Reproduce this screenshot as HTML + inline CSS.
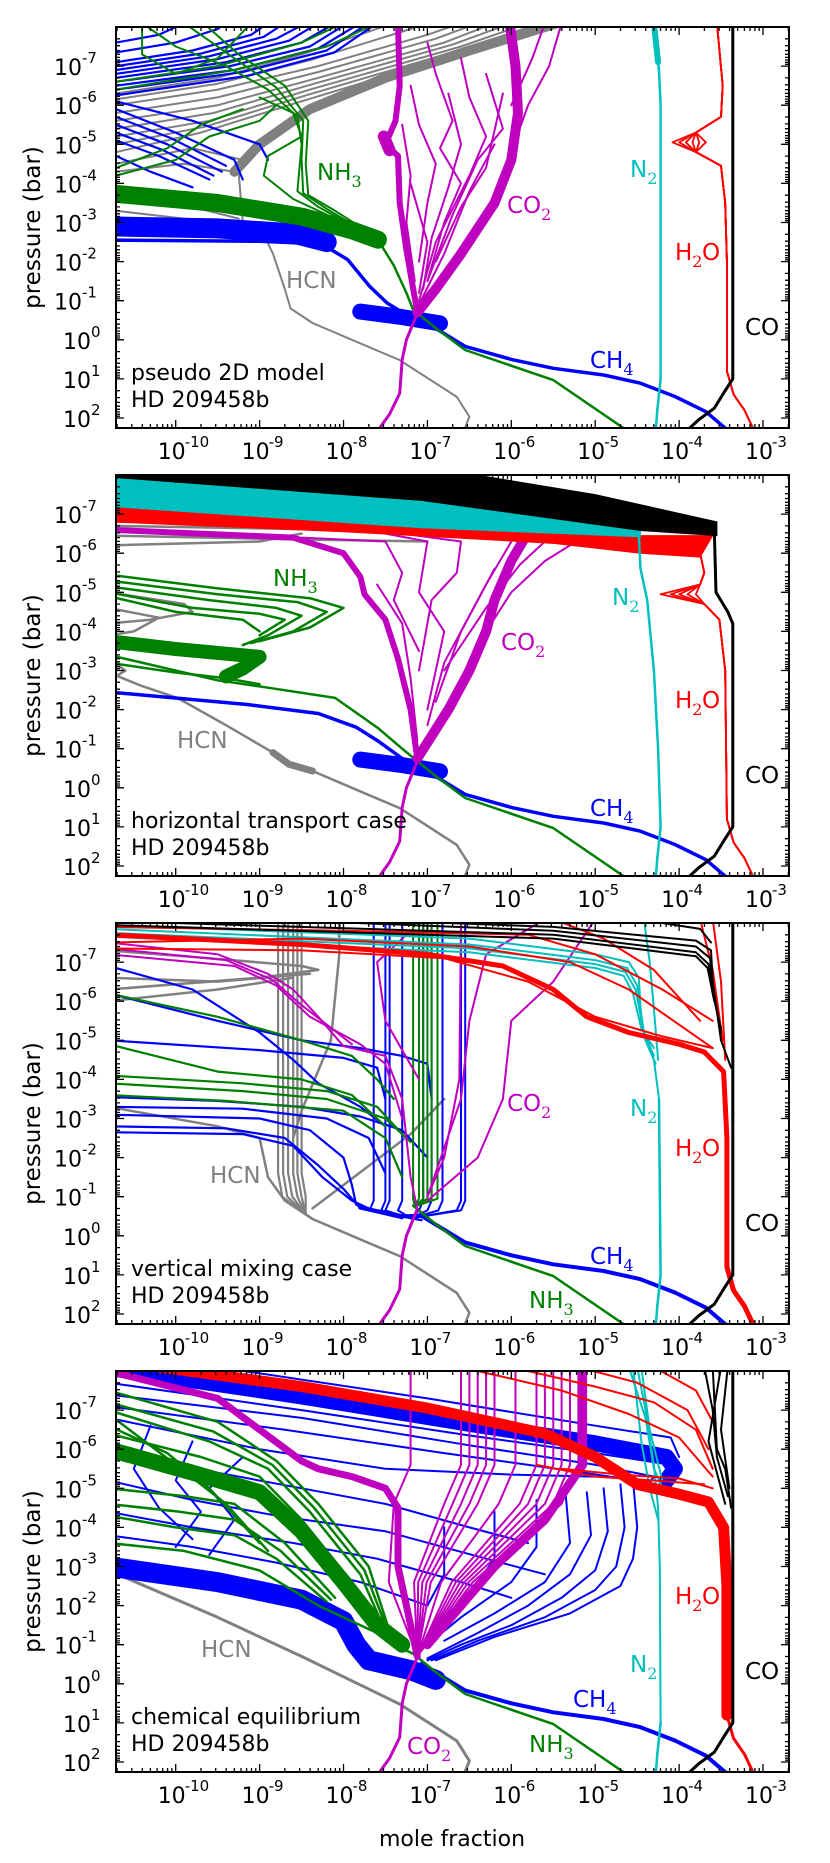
<!DOCTYPE html>
<html><head><meta charset="utf-8"><style>
html,body{margin:0;padding:0;background:#fff}
svg{display:block}
text{font-family:"DejaVu Sans","Liberation Sans",sans-serif}
</style></head><body>
<svg id="fig" xmlns="http://www.w3.org/2000/svg" width="830" height="1863" viewBox="0 0 830 1863">
<text x="452" y="1846" font-size="22" text-anchor="middle">mole fraction</text>
</svg>
<script>
// ---- shared data (log10 mole fraction, log10 pressure/bar) ----
const xTickExps = [-10,-9,-8,-7,-6,-5,-4,-3];
const yTickExps = [-7,-6,-5,-4,-3,-2,-1,0,1,2];
const panelTitles = ["pseudo 2D model","horizontal transport case","vertical mixing case","chemical equilibrium"];
const planetName = "HD 209458b";
const CO_deep = [[-3.36,1.0],[-3.45,1.3],[-3.58,1.75],[-3.77,2.05],[-3.92,2.35]];
const H2O_deep = [[-3.43,0.8],[-3.35,1.4],[-3.22,1.8],[-3.1,2.35]];
const N2_deep = [[-4.22,1.0],[-4.26,1.8],[-4.28,2.35]];
const CH4_deep = [[-7.07,-0.51],[-6.55,0.17],[-6.0,0.5],[-5.5,0.73],[-4.9,0.9],[-4.46,1.11],[-4.05,1.45],[-3.68,1.84],[-3.4,2.35]];
const NH3_deep = [[-7.17,-0.77],[-6.9,-0.3],[-6.55,0.26],[-5.5,1.03],[-4.6,2.35]];
const HCN_deep = [[-8.37,-0.43],[-7.9,0.0],[-7.33,0.52],[-6.65,1.46],[-6.5,1.97],[-6.57,2.35]];
const CO2_deep = [[-7.12,-0.68],[-7.25,0.0],[-7.3,0.5],[-7.33,1.37],[-7.45,1.9],[-7.6,2.35]];

const C = {co:"#000000",h2o:"#ff0000",n2:"#00bfbf",ch4:"#0000ff",nh3:"#008000",hcn:"#808080",co2:"#bf00bf"};

// ---- panel 1: pseudo 2D ----
const p1_hcn = [
 [[-10.71,-6.3],[-9.5,-6.7],[-8.5,-7.3],[-7.4,-8.1]],
 [[-10.71,-6.15],[-9.5,-6.55],[-8.4,-7.15],[-7.2,-7.95],[-7.0,-8.1]],
 [[-10.71,-6.0],[-9.5,-6.4],[-8.3,-7.0],[-7.0,-7.8],[-6.6,-8.1]],
 [[-10.71,-5.8],[-9.5,-6.2],[-8.3,-6.85],[-6.9,-7.7],[-6.4,-8.1]],
 [[-10.71,-5.6],[-9.5,-6.0],[-8.3,-6.7],[-6.8,-7.6],[-6.2,-8.1]],
 [[-10.71,-5.4],[-9.55,-5.8],[-8.35,-6.55],[-6.7,-7.55],[-6.0,-8.1]],
 [[-10.71,-5.2],[-9.6,-5.6],[-8.4,-6.4],[-6.6,-7.5],[-5.8,-8.1]],
 [[-10.71,-5.0],[-9.65,-5.45],[-8.45,-6.25],[-6.55,-7.45],[-5.65,-8.1]],
 [[-10.71,-4.8],[-9.7,-5.3],[-8.5,-6.1],[-6.5,-7.4],[-5.5,-8.1]],
 [[-10.71,-4.5],[-9.8,-4.9],[-9.2,-4.6]],
 [[-10.71,-4.3],[-9.9,-4.5],[-9.3,-4.3]],
 [[-10.71,-3.6],[-9.8,-3.4],[-9.25,-3.1]],
 [[-10.71,-3.3],[-9.5,-3.0]],
 [[-9.25,-4.3],[-9.2,-3.0],[-8.94,-2.65],[-8.84,-2.2],[-8.7,-1.3],[-8.63,-0.8],[-8.37,-0.43],[-7.9,0.0],[-7.33,0.52],[-6.65,1.46],[-6.5,1.97],[-6.57,2.35]]
];
const p1_hcnBand = [[-9.3,-4.3],[-9.0,-5.0],[-8.4,-5.9],[-7.5,-6.7],[-6.5,-7.4],[-5.45,-8.1]];
const p1_ch4 = [
 [[-10.71,-6.25],[-9.15,-6.75],[-8.11,-7.35],[-7.6,-8.1]],
 [[-10.71,-6.4],[-9.2,-6.85],[-8.2,-7.4],[-7.7,-8.1]],
 [[-10.71,-6.5],[-9.3,-6.9],[-8.3,-7.45],[-7.8,-8.1]],
 [[-10.71,-6.6],[-9.35,-7.0],[-8.4,-7.5],[-7.95,-8.1]],
 [[-10.71,-6.7],[-9.4,-7.1],[-8.5,-7.6],[-8.1,-8.1]],
 [[-10.71,-6.8],[-9.5,-7.18],[-8.65,-7.65],[-8.3,-8.1]],
 [[-10.71,-6.9],[-9.6,-7.25],[-8.8,-7.7],[-8.45,-8.1]],
 [[-10.71,-7.0],[-9.7,-7.32],[-8.95,-7.75],[-8.7,-8.1]],
 [[-10.71,-7.1],[-9.8,-7.4],[-9.1,-7.8],[-8.9,-8.1]],
 [[-10.71,-7.35],[-10.0,-7.6],[-9.5,-7.95],[-9.4,-8.1]],
 [[-10.71,-7.6],[-10.2,-7.8],[-9.9,-8.1]],
 [[-10.71,-5.9],[-10.0,-5.3],[-9.3,-4.6],[-9.2,-4.1]],
 [[-10.71,-5.7],[-10.05,-5.15],[-9.4,-4.45]],
 [[-10.71,-5.5],[-10.1,-5.0],[-9.45,-4.3]],
 [[-10.71,-5.3],[-10.15,-4.85],[-9.55,-4.2]],
 [[-10.71,-5.1],[-10.2,-4.7],[-9.6,-4.1]],
 [[-10.71,-4.7],[-10.3,-4.3],[-9.8,-3.9]],
 [[-10.71,-6.1],[-9.8,-5.6],[-9.0,-5.0],[-8.9,-4.6]]
];
const p1_ch4Main = [[-10.8,-2.55],[-9,-2.52],[-8.26,-2.45],[-7.95,-2.05],[-7.69,-1.37],[-7.48,-0.94],[-7.3,-0.7]];
const p1_ch4Band = [[-10.8,-2.9],[-9.5,-2.85],[-8.6,-2.72],[-8.2,-2.5]];
const ch4Blob = [[-7.8,-0.72],[-7.3,-0.58],[-6.85,-0.42]];
const p1_nh3 = [
 [[-7.59,-2.6],[-8.1,-3.3],[-8.42,-3.7],[-8.45,-4.5],[-8.42,-5.6],[-8.7,-6.5],[-9.25,-7.3],[-9.67,-8.1]],
 [[-7.7,-2.7],[-8.2,-3.35],[-8.48,-3.75],[-8.5,-4.6],[-8.48,-5.6],[-8.8,-6.45],[-9.3,-7.2],[-9.9,-8.1]],
 [[-7.8,-2.8],[-8.3,-3.4],[-8.55,-3.8],[-8.5,-5.0],[-8.55,-5.7],[-8.9,-6.4],[-9.4,-7.0],[-10.0,-7.5],[-10.4,-8.1]],
 [[-8.0,-3.0],[-8.6,-3.6],[-8.95,-4.2],[-8.9,-4.7],[-8.5,-5.2],[-8.6,-5.8],[-9.0,-6.2]],
 [[-10.71,-4.2],[-10.0,-4.6],[-9.6,-5.2],[-9.0,-5.6],[-8.8,-6.0]],
 [[-10.71,-4.4],[-10.1,-4.9],[-9.7,-5.5],[-9.2,-5.9]],
 [[-10.4,-8.1],[-10.4,-7.3],[-10.0,-6.8],[-9.5,-7.2],[-9.1,-8.1]],
 [[-10.71,-6.6],[-9.5,-7.0],[-8.5,-7.6],[-8.0,-8.1]],
 [[-10.71,-6.4],[-9.3,-6.9],[-8.2,-7.5],[-7.6,-8.1]]
];
const p1_nh3Band = [[-10.8,-3.75],[-9.5,-3.5],[-8.5,-3.15],[-7.9,-2.8],[-7.59,-2.56]];
const p1_nh3Main = [[-7.59,-2.56],[-7.4,-1.9],[-7.25,-1.2],[-7.17,-0.77]];
const p1_co2 = [
 [[-5.4,-8.1],[-5.55,-7.0],[-5.8,-6.0],[-6.0,-4.8]],
 [[-5.6,-8.1],[-5.75,-7.2],[-6.0,-6.0]],
 [[-7.0,-7.6],[-6.9,-6.8],[-6.7,-5.6],[-6.85,-4.9],[-6.6,-4.0],[-6.8,-3.0],[-7.0,-1.5]],
 [[-6.6,-7.2],[-6.5,-6.2],[-6.3,-5.2],[-6.5,-4.2],[-6.9,-2.5],[-7.1,-1.0]],
 [[-7.2,-6.5],[-7.1,-5.5],[-6.9,-4.5],[-7.0,-3.5],[-7.1,-2.0]],
 [[-6.3,-6.8],[-6.1,-5.4],[-6.4,-4.6],[-6.7,-3.2],[-7.0,-1.5]],
 [[-7.2,-4.0],[-7.0,-2.5],[-7.1,-1.2]],
 [[-6.2,-5.0],[-6.5,-3.8],[-6.8,-2.2],[-7.1,-0.9]],
 [[-7.3,-5.5],[-7.2,-4.2],[-7.25,-3.0],[-7.15,-1.5]],
 [[-6.1,-6.3],[-6.3,-4.4],[-6.6,-3.4],[-6.9,-2.0]],
 [[-6.75,-6.3],[-6.6,-5.0],[-6.75,-3.9],[-6.95,-2.6],[-7.05,-1.3]]
];
const p1_co2Left = [[-7.35,-8.1],[-7.33,-6.5],[-7.38,-5.6],[-7.5,-5.0],[-7.35,-4.7],[-7.33,-3.5],[-7.25,-2.3],[-7.12,-0.7]];
const p1_co2Right = [[-6.02,-8.1],[-5.95,-7.0],[-5.92,-5.8],[-6.0,-4.6],[-6.2,-3.5],[-6.6,-2.2],[-6.9,-1.3],[-7.12,-0.7]];
const p1_h2oBump = [-4.08,-4.0,-3.92,-3.84,-3.76,-3.68];

// ---- panel 2: horizontal transport ----
const p2_coBandTop = [[-10.8,-8.1],[-6.7,-8.1],[-5,-7.5],[-3.55,-6.8]];
const p2_coBandBot = [[-3.55,-6.45],[-4.46,-6.58],[-7.07,-7.35],[-10.8,-7.95]];
const p2_n2BandTop = [[-10.8,-7.95],[-7.07,-7.35],[-4.46,-6.58]];
const p2_n2BandBot = [[-4.46,-6.42],[-7.07,-6.65],[-10.8,-7.2]];
const p2_h2oBandTop = [[-10.8,-7.25],[-7.07,-6.65],[-4.46,-6.45],[-3.6,-6.45]];
const p2_h2oBandBot = [[-3.75,-5.9],[-4.46,-6.0],[-5.5,-6.25],[-8,-6.55],[-10.8,-6.8]];
const p2_h2oBump = [-4.22,-4.1,-4.0,-3.9,-3.8];
const p2_hcn = [
 [[-10.8,-6.7],[-8.0,-6.6],[-6.5,-6.45]],
 [[-10.8,-6.45],[-8.5,-6.35],[-7,-6.3]],
 [[-10.8,-6.2],[-9,-6.3],[-8.5,-6.5]],
 [[-10.8,-5.0],[-9.9,-4.7],[-9.8,-4.5],[-10.3,-4.3],[-10.8,-4.2]],
 [[-10.8,-4.6],[-10.2,-4.35],[-10.5,-4.0],[-10.8,-3.9]],
 [[-10.8,-3.3],[-10.6,-3.0],[-10.75,-2.8]],
 [[-10.8,-2.95],[-10.4,-2.6],[-9.98,-2.3],[-9.4,-1.6],[-8.84,-0.9],[-8.65,-0.6],[-8.37,-0.43],[-7.9,0.0],[-7.33,0.52],[-6.65,1.46],[-6.5,1.97],[-6.57,2.35]]
];
const p2_ch4Main = [[-10.8,-2.45],[-9.15,-2.13],[-8.3,-1.9],[-7.85,-1.55],[-7.59,-1.2],[-7.3,-0.75]];
const p2_nh3 = [
 [[-10.8,-5.45],[-9.5,-5.1],[-8.4,-4.85],[-8.0,-4.6],[-8.4,-4.1],[-9.0,-3.75]],
 [[-10.8,-5.3],[-9.5,-4.95],[-8.55,-4.75],[-8.2,-4.5],[-8.6,-4.0],[-9.1,-3.7]],
 [[-10.8,-5.15],[-9.6,-4.8],[-8.8,-4.6],[-8.5,-4.4],[-8.9,-3.9],[-9.2,-3.65]],
 [[-10.8,-5.0],[-9.8,-4.6],[-9.0,-4.45],[-8.7,-4.3],[-9.0,-3.9]],
 [[-10.8,-4.9],[-10.0,-4.5],[-9.2,-4.3],[-9.0,-4.0]],
 [[-10.8,-3.4],[-9.5,-2.75],[-8.9,-2.56],[-8.1,-2.3],[-7.59,-1.53],[-7.3,-1.0],[-7.17,-0.77]],
 [[-10.8,-3.2],[-10.0,-2.95],[-9.4,-2.8],[-9.0,-2.65]]
];
const p2_nh3Band = [[-10.8,-3.75],[-10,-3.55],[-9.0,-3.35],[-9.2,-3.05],[-9.4,-2.85]];
const p2_co2 = [
 [[-8.5,-6.4],[-7.5,-6.3],[-7.3,-5.5],[-7.4,-4.8],[-7.1,-3.5]],
 [[-7.5,-6.5],[-7.0,-6.3],[-7.1,-5.0],[-6.8,-4.0],[-7.0,-2.0]],
 [[-7.3,-6.5],[-6.6,-6.3],[-6.65,-5.5],[-6.95,-4.8],[-7.1,-3.0]],
 [[-5.3,-6.2],[-5.6,-5.8],[-6.0,-5.0],[-6.3,-4.0]],
 [[-5.6,-6.3],[-5.9,-5.7],[-6.3,-4.6],[-6.8,-3.0]],
 [[-6.0,-6.3],[-6.3,-5.2],[-6.6,-4.0],[-6.9,-2.2]],
 [[-7.6,-5.2],[-7.3,-4.2],[-7.2,-2.8],[-7.12,-1.2]],
 [[-6.2,-5.6],[-6.5,-4.4],[-6.8,-3.2],[-7.0,-1.6]]
];
const p2_co2Left = [[-10.8,-6.6],[-8.6,-6.4],[-8.0,-6.0],[-7.8,-5.4],[-7.75,-4.95],[-7.5,-4.3],[-7.35,-3.3],[-7.2,-2.0],[-7.12,-0.75]];
const p2_co2Right = [[-5.85,-6.35],[-6.0,-5.8],[-6.2,-4.8],[-6.3,-4.0],[-6.5,-3.0],[-6.75,-2.0],[-7.12,-0.75]];

// ---- panel 3: vertical mixing ----
const p3_co = [
 [[-8,-8.1],[-5.5,-7.9],[-3.8,-7.55],[-3.62,-7.3],[-3.6,-6.5],[-3.5,-5.0],[-3.38,-4.3]],
 [[-9,-8.1],[-5.5,-7.8],[-3.8,-7.4],[-3.63,-7.1],[-3.6,-6.3],[-3.5,-5.2]],
 [[-10.8,-8.05],[-5.5,-7.7],[-3.8,-7.25],[-3.65,-6.95],[-3.6,-6.2],[-3.5,-5.3]],
 [[-10.8,-7.95],[-5.5,-7.6],[-3.8,-7.15],[-3.66,-6.85],[-3.58,-6.0]],
 [[-4.5,-8.1],[-3.75,-7.85],[-3.62,-7.5]]
];
const p3_n2 = [
 [[-10.8,-7.95],[-6.5,-7.6],[-5,-7.2],[-4.6,-7.0],[-4.48,-6.6],[-4.45,-5.5],[-4.38,-4.9],[-4.3,-4.5],[-4.24,-3.5],[-4.22,1.0]],
 [[-10.8,-7.85],[-6.5,-7.45],[-5,-7.05],[-4.62,-6.85],[-4.5,-6.4],[-4.42,-5.2],[-4.3,-4.6]],
 [[-10.8,-7.75],[-6.5,-7.35],[-5,-6.95],[-4.64,-6.75],[-4.52,-6.3],[-4.4,-5.0],[-4.28,-4.4]],
 [[-10.8,-7.65],[-6.5,-7.25],[-5,-6.85],[-4.66,-6.65],[-4.55,-6.2],[-4.45,-5.3],[-4.3,-4.8]],
 [[-4.42,-8.1],[-4.35,-7.0],[-4.3,-5.8],[-4.25,-4.5]]
];
const p3_h2o = [
 [[-10.8,-7.5],[-8.5,-7.6],[-6.5,-7.4],[-5.3,-7.0],[-4.6,-6.3],[-4.0,-5.4],[-3.6,-4.8]],
 [[-10.8,-7.9],[-8,-7.8],[-5.8,-7.7],[-5,-7.2],[-4.2,-6.3],[-3.6,-5.5]],
 [[-10.8,-7.35],[-8.5,-7.3],[-6.8,-7.1],[-5.8,-6.5],[-5.0,-5.6],[-4.2,-5.1],[-3.6,-4.8]],
 [[-5.5,-8.1],[-4.9,-7.6],[-4.3,-6.8],[-3.75,-5.5]],
 [[-3.6,-8.1],[-3.5,-6.5],[-3.45,-4.5]],
 [[-3.75,-8.1],[-3.6,-6.8],[-3.48,-5.0]]
];
const p3_h2oMain = [[-10.8,-7.7],[-8.5,-7.45],[-7,-7.2],[-6.1,-6.9],[-5.5,-6.3],[-5.1,-5.6],[-4.6,-5.2],[-4.0,-4.9],[-3.7,-4.7],[-3.47,-4.2],[-3.43,-2.5],[-3.43,0.8]];
const p3_hcnVertX = [-8.78,-8.72,-8.66,-8.6,-8.55,-8.5];
const p3_hcn = [
 [[-10.8,-7.3],[-9.6,-7.1],[-8.5,-6.9],[-8.3,-6.8],[-9.0,-6.6],[-10.8,-6.3]],
 [[-10.8,-6.6],[-9.5,-6.5],[-8.4,-6.7]],
 [[-10.8,-6.0],[-9.5,-6.3],[-8.6,-6.6]],
 [[-8.05,-8.1],[-8.05,-7.2],[-8.15,-5.0],[-8.5,-3.2],[-8.6,-2.5]],
 [[-8.37,-0.7],[-8.0,-1.3],[-7.2,-2.6],[-6.8,-3.5]],
 [[-10.8,-3.3],[-9.5,-2.8],[-9.0,-2.5],[-8.9,-1.5],[-8.7,-0.9],[-8.37,-0.43],[-7.9,0.0],[-7.33,0.52],[-6.65,1.46],[-6.5,1.97],[-6.57,2.35]]
];
const p3_ch4VertX = [-7.64,-7.5,-7.45,-7.3,-7.05,-6.95,-6.82,-6.6,-6.55];
const p3_ch4 = [
 [[-10.8,-6.2],[-9.5,-5.5],[-8.5,-5.0],[-7.8,-4.8],[-7.3,-4.6],[-7.0,-4.4],[-6.95,-3.5]],
 [[-10.8,-5.0],[-9.0,-4.75],[-8.0,-4.55],[-7.6,-4.3],[-7.5,-3.5]],
 [[-10.8,-6.9],[-9.8,-6.3],[-9.0,-5.2],[-8.6,-4.5],[-8.3,-3.9],[-7.8,-3.3],[-7.5,-2.8]],
 [[-10.8,-3.55],[-9.5,-3.45],[-8.5,-3.3],[-7.8,-3.05],[-7.3,-2.7],[-7.0,-2.0]],
 [[-10.8,-3.3],[-9.2,-3.25],[-8.2,-3.0],[-7.7,-2.5],[-7.5,-1.6]],
 [[-10.8,-3.1],[-9.0,-3.0],[-8.4,-2.7],[-8.0,-2.0],[-7.9,-1.3],[-7.85,-0.8],[-7.4,-0.5]],
 [[-10.8,-2.8],[-9.4,-2.75],[-8.7,-2.5],[-8.3,-1.8],[-8.0,-1.2],[-7.8,-0.7],[-7.3,-0.45]],
 [[-10.8,-2.65],[-9.2,-2.6],[-8.6,-2.3],[-8.25,-1.5],[-7.9,-0.9],[-7.6,-0.6]]
];
const p3_nh3VertX = [-7.17,-7.1,-7.05,-7.0,-6.95,-6.88];
const p3_nh3 = [
 [[-10.8,-6.2],[-9.5,-5.6],[-8.5,-5.0],[-7.9,-4.6],[-7.6,-4.0],[-7.4,-3.5]],
 [[-10.8,-4.9],[-9.5,-4.2],[-8.5,-4.0],[-7.9,-3.6],[-7.5,-2.8]],
 [[-10.8,-4.1],[-9.2,-3.9],[-8.2,-3.7],[-7.6,-3.3],[-7.3,-2.6]],
 [[-10.8,-3.9],[-9.2,-3.7],[-8.2,-3.5],[-7.5,-3.0],[-7.2,-2.4]],
 [[-10.8,-3.6],[-9.4,-3.45],[-8.0,-3.2],[-7.5,-2.5],[-7.3,-1.5]]
];
const p3_co2 = [
 [[-10.8,-7.5],[-9.5,-7.2],[-8.9,-6.7],[-8.6,-6.3],[-8.3,-5.6],[-8.0,-4.85],[-7.5,-4.6],[-7.3,-3.5],[-7.2,-1.5],[-7.12,-0.68]],
 [[-10.8,-7.2],[-9.3,-6.9],[-8.8,-6.4],[-8.4,-5.6],[-7.8,-4.9],[-7.5,-4.4],[-7.3,-3.0]],
 [[-10.8,-7.35],[-9.4,-7.05],[-8.85,-6.55],[-8.5,-5.9],[-7.9,-4.9]],
 [[-6.6,-8.1],[-6.62,-4.0],[-6.8,-2.0],[-7.0,-1.0]],
 [[-7.2,-7.8],[-7.6,-7.0],[-7.5,-5.5],[-7.1,-4.0]],
 [[-5.0,-8.1],[-5.5,-6.5],[-6.0,-5.5],[-6.1,-3.5],[-6.4,-2.0],[-7.0,-0.9]],
 [[-5.6,-8.1],[-6.3,-7.2],[-6.5,-5.5],[-6.6,-3.5],[-7.0,-1.0]]
];

// ---- panel 4: chemical equilibrium ----
const p4_co = [
 [[-3.6,-8.1],[-3.55,-6.0],[-3.45,-5.5],[-3.38,-4.5]],
 [[-3.42,-8.1],[-3.5,-6.5],[-3.4,-5.0]],
 [[-3.7,-8.1],[-3.6,-7.0],[-3.55,-5.8],[-3.42,-4.8]],
 [[-3.5,-8.1],[-3.65,-6.2],[-3.45,-4.6]]
];
const p4_h2o = [
 [[-6.0,-8.1],[-5.0,-7.6],[-4.3,-7.2],[-3.8,-6.5],[-3.6,-5.5]],
 [[-5.2,-8.1],[-4.5,-7.7],[-3.9,-7.0],[-3.65,-6.0]],
 [[-6.6,-8.1],[-5.4,-7.5],[-4.6,-6.9],[-4.0,-6.3],[-3.6,-5.3]],
 [[-4.3,-8.1],[-3.8,-7.5],[-3.6,-6.7]],
 [[-5.7,-5.6],[-5.0,-5.3],[-4.3,-5.2],[-3.7,-5.1]],
 [[-5.4,-5.5],[-4.7,-5.35],[-4.0,-5.25],[-3.6,-5.0]]
];
const p4_h2oMain = [[-10.2,-8.1],[-8.5,-7.6],[-7,-7.05],[-5.6,-6.4],[-5.0,-5.8],[-4.5,-5.1],[-4.0,-4.85],[-3.65,-4.65],[-3.47,-4.0],[-3.43,-2.5],[-3.43,0.8]];
const p4_ch4 = [
 [[-9.5,-8.1],[-7,-7.3],[-5,-6.6],[-4.1,-6.3],[-4.0,-5.8]],
 [[-10.8,-7.7],[-8.5,-7.0],[-6.5,-6.35],[-5.0,-5.9],[-4.1,-5.6],[-4.2,-5.2]],
 [[-10.8,-7.4],[-8.5,-6.8],[-6.5,-6.1],[-5.0,-5.6],[-4.3,-5.3],[-4.4,-5.0]],
 [[-10.8,-7.1],[-8.7,-6.5],[-6.8,-5.9],[-5.3,-5.45],[-4.5,-5.2]],
 [[-10.8,-6.8],[-9.0,-6.0],[-7.5,-5.5],[-6.0,-5.35],[-5.0,-5.3]],
 [[-10.8,-6.0],[-9.5,-5.4],[-8.5,-5.0],[-7.5,-4.6],[-6.5,-4.0],[-5.8,-3.6]],
 [[-10.8,-5.2],[-9.8,-4.7],[-8.8,-4.3],[-7.5,-3.9],[-6.3,-3.2],[-5.6,-2.8]],
 [[-10.8,-4.4],[-9.8,-4.0],[-8.6,-3.6],[-7.6,-3.2],[-6.6,-2.6],[-6.0,-2.2]],
 [[-10.8,-3.8],[-9.8,-3.5],[-8.8,-3.1],[-7.8,-2.6],[-7.0,-2.0]],
 [[-10.3,-6.6],[-10.5,-5.5],[-10.2,-4.5],[-9.8,-3.7]],
 [[-9.2,-5.8],[-9.6,-5.0],[-9.3,-4.2],[-9.6,-3.3]],
 [[-9.8,-6.2],[-10.0,-5.2],[-9.7,-4.4],[-10.0,-3.5]],
 [[-4.55,-5.2],[-4.5,-4.0],[-4.55,-3.2],[-4.7,-2.5],[-5.3,-1.8],[-6.2,-1.2],[-6.9,-0.6]],
 [[-4.7,-5.1],[-4.65,-4.0],[-4.75,-3.0],[-5.0,-2.4],[-5.6,-1.7],[-6.4,-1.1],[-6.95,-0.6]],
 [[-4.9,-5.0],[-4.85,-3.9],[-5.0,-2.9],[-5.4,-2.2],[-6.0,-1.5],[-6.6,-1.0],[-7.0,-0.6]],
 [[-5.1,-4.9],[-5.05,-3.8],[-5.3,-2.8],[-5.8,-2.0],[-6.4,-1.3],[-7.0,-0.65]],
 [[-5.35,-4.8],[-5.3,-3.6],[-5.6,-2.6],[-6.2,-1.8],[-6.8,-1.1]],
 [[-5.7,-4.7],[-5.7,-3.5],[-6.0,-2.6],[-6.6,-1.7],[-7.0,-1.0]],
 [[-6.2,-4.4],[-6.2,-3.2],[-6.5,-2.3],[-6.9,-1.5]],
 [[-6.8,-4.0],[-6.8,-2.8],[-7.0,-2.0]]
];
const p4_ch4TopBand = [[-10.71,-8.05],[-8.5,-7.35],[-6.5,-6.65],[-5.0,-6.15],[-4.15,-5.8],[-4.05,-5.5],[-4.15,-5.2]];
const p4_ch4BotBand = [[-10.8,-3.0],[-9.5,-2.6],[-8.5,-2.15],[-8.0,-1.6],[-7.85,-1.0],[-7.7,-0.6],[-7.2,-0.35],[-6.9,-0.1]];
const p4_nh3 = [
 [[-10.8,-7.5],[-9.5,-6.7],[-8.8,-5.7],[-8.3,-4.6],[-7.7,-3.0],[-7.4,-1.0],[-7.17,-0.77]],
 [[-10.8,-7.2],[-9.55,-6.45],[-8.85,-5.6],[-8.35,-4.5],[-7.75,-2.9],[-7.42,-1.05]],
 [[-10.8,-7.0],[-9.6,-6.2],[-8.9,-5.5],[-8.4,-4.4],[-7.8,-2.8],[-7.45,-1.1]],
 [[-10.8,-6.4],[-9.7,-5.8],[-9.0,-5.3],[-8.5,-4.2],[-7.9,-2.6],[-7.5,-1.2]],
 [[-10.8,-5.8],[-9.8,-5.4],[-9.1,-5.1],[-8.6,-4.0],[-8.0,-2.4],[-7.55,-1.3]],
 [[-10.8,-5.0],[-9.9,-4.8],[-9.3,-4.6],[-8.7,-3.6],[-8.1,-2.2]],
 [[-10.8,-4.6],[-9.95,-4.4],[-9.3,-4.2],[-8.75,-3.4],[-8.15,-2.15]],
 [[-10.8,-4.3],[-10.0,-4.0],[-9.3,-3.8],[-8.8,-3.2],[-8.2,-2.1]],
 [[-10.8,-3.6],[-9.9,-3.4],[-9.0,-2.9],[-8.3,-2.0],[-7.6,-1.3]],
 [[-10.8,-6.9],[-10.0,-5.6],[-9.4,-4.6],[-8.9,-3.4]],
 [[-10.8,-6.6],[-10.1,-5.9],[-9.6,-5.0],[-9.0,-3.6]]
];
const p4_nh3Band = [[-10.8,-6.0],[-9.8,-5.4],[-9.0,-4.9],[-8.5,-3.9],[-8.0,-2.6],[-7.6,-1.5],[-7.3,-1.0]];
const p4_hcn = [[-10.8,-2.9],[-9.5,-1.7],[-8.5,-0.7],[-7.33,0.52],[-6.65,1.46],[-6.5,1.97],[-6.57,2.35]];
const p4_co2Diag = [[-10.8,-8.0],[-9.5,-7.3],[-8.5,-5.7],[-8.3,-5.5],[-7.9,-5.3],[-7.5,-5.0],[-7.35,-4.5],[-7.35,-3.0],[-7.2,-1.5],[-7.12,-0.7]];
const p4_co2VertX = [-7.2,-6.6,-6.5,-6.4,-6.3,-6.2,-5.95,-5.7,-5.6,-5.5,-5.4,-5.3,-5.2];
const p4_co2Band = [[-5.15,-8.1],[-5.15,-5.6],[-5.6,-4.2],[-6.2,-3.0],[-6.6,-2.0],[-7.0,-1.0]];
const p4_n2 = [
 [[-4.5,-8.1],[-4.4,-7.0],[-4.3,-5.6],[-4.25,-4.5],[-4.23,-3.0],[-4.22,1.0]],
 [[-4.45,-8.1],[-4.35,-6.5],[-4.2,-5.2]],
 [[-4.6,-8.1],[-4.4,-6.8],[-4.3,-5.5],[-4.15,-4.8]],
 [[-4.55,-8.1],[-4.45,-6.2],[-4.35,-5.0],[-4.25,-4.2]]
];

// ---- geometry ----
const NS = "http://www.w3.org/2000/svg";
const svg = document.getElementById('fig');
const L = 116, R = 789, PH = 401;
const panelTops = [27,475,923,1371];
function X(lx){ return 175.7 + (lx + 10) * 83.9; }
function Yf(top){ return lp => top + (lp + 8) * 39.1; }
function el(tag, attrs, parent){ const e = document.createElementNS(NS, tag); for (const k in attrs) e.setAttribute(k, attrs[k]); (parent||svg).appendChild(e); return e; }
function pathD(pts, Y){ return pts.map((p,i)=>(i?'L':'M')+X(p[0]).toFixed(1)+','+Y(p[1]).toFixed(1)).join(''); }

function drawLine(g, pts, Y, color, w, name){
  const e = el('path', {d:pathD(pts,Y), fill:'none', stroke:color, 'stroke-width':w, 'stroke-linejoin':'round','stroke-linecap':'round'}, g);
  
  
}
function drawBand(g, top, bot, Y, color, name){
  const e = el('path', {d:pathD(top.concat(bot),Y)+'Z', fill:color, stroke:color, 'stroke-width':1}, g);
  
  
}
function sub(t, main, s){ const a = document.createElementNS(NS,'tspan'); a.textContent = main; t.appendChild(a);
  if (s){ const b = document.createElementNS(NS,'tspan'); b.setAttribute('font-size','16'); b.setAttribute('dy','7'); b.setAttribute('font-family','"DejaVu Serif","Liberation Serif",serif'); b.textContent = s; t.appendChild(b); } }
function label(g, x, y, color, main, s, name){
  const t = el('text', {x:x, y:y, fill:color, 'font-size':23}, g);
  
  
  sub(t, main, s);
}

panelTops.forEach((top, pi) => {
  const Y = Yf(top);
  const g = el('g', {});
  
  
  const cp = el('clipPath', {id:'clip'+pi}, g);
  el('rect', {x:L, y:top, width:R-L, height:PH}, cp);
  const d = el('g', {'clip-path':'url(#clip'+pi+')'}, g);
  
  

  if (pi === 0){
    drawLine(d, p1_hcnBand, Y, C.hcn, 10, 'hcn-band');
    p1_hcn.forEach(c => drawLine(d, c, Y, C.hcn, 2, 'hcn-line'));
    p1_ch4.forEach(c => drawLine(d, c, Y, C.ch4, 2.2, 'ch4-line'));
    drawLine(d, p1_ch4Band, Y, C.ch4, 20, 'ch4-band');
    drawLine(d, p1_ch4Main.concat(CH4_deep), Y, C.ch4, 3.5, 'ch4-main');
    drawLine(d, ch4Blob, Y, C.ch4, 16, 'ch4-blob');
    p1_nh3.forEach(c => drawLine(d, c, Y, C.nh3, 2, 'nh3-line'));
    drawLine(d, p1_nh3Band, Y, C.nh3, 18, 'nh3-band');
    drawLine(d, p1_nh3Main.concat(NH3_deep), Y, C.nh3, 2.5, 'nh3-main');
    p1_co2.forEach(c => drawLine(d, c, Y, C.co2, 2, 'co2-line'));
    drawLine(d, p1_co2Left, Y, C.co2, 6, 'co2-left');
    drawLine(d, [[-7.52,-5.2],[-7.45,-4.85]], Y, C.co2, 12, 'co2-blob');
    drawLine(d, p1_co2Right, Y, C.co2, 10, 'co2-right');
    drawLine(d, CO2_deep, Y, C.co2, 3, 'co2-deep');
    drawLine(d, [[-4.3,-8.1],[-4.24,-6.9],[-4.22,-6],[-4.22,1.0]].concat(N2_deep), Y, C.n2, 2.5, 'n2-line');
    drawLine(d, [[-4.3,-8.1],[-4.25,-7.1]], Y, C.n2, 6, 'n2-top');
    p1_h2oBump.forEach(b => drawLine(d, [[-3.55,-8.1],[-3.48,-6.5],[-3.5,-5.7],[-3.8,-5.3],[b,-5.05],[-3.8,-4.8],[-3.5,-4.45],[-3.45,-3.5],[-3.43,-2],[-3.43,0.8]].concat(H2O_deep), Y, C.h2o, 1.8, 'h2o-line'));
    drawLine(d, [[-3.36,-8.1],[-3.36,1.0]].concat(CO_deep), Y, C.co, 3, 'co-line');
    label(g, 317, 180, C.nh3, 'NH', '3', 'nh3-label');
    label(g, 507, 213, C.co2, 'CO', '2', 'co2-label');
    label(g, 630, 177, C.n2, 'N', '2', 'n2-label');
    label(g, 286, 288, C.hcn, 'HCN', '', 'hcn-label');
  }
  if (pi === 1){
    p2_hcn.forEach(c => drawLine(d, c, Y, C.hcn, 2.5, 'hcn-line'));
    drawLine(d, [[-8.84,-0.9],[-8.65,-0.6],[-8.37,-0.43]], Y, C.hcn, 7, 'hcn-thick');
    drawLine(d, p2_ch4Main.concat(CH4_deep), Y, C.ch4, 3.5, 'ch4-main');
    drawLine(d, ch4Blob, Y, C.ch4, 16, 'ch4-blob');
    p2_nh3.forEach(c => drawLine(d, c, Y, C.nh3, 2.5, 'nh3-line'));
    drawLine(d, p2_nh3Band, Y, C.nh3, 14, 'nh3-band');
    drawLine(d, NH3_deep, Y, C.nh3, 2.5, 'nh3-deep');
    p2_co2.forEach(c => drawLine(d, c, Y, C.co2, 2, 'co2-line'));
    drawLine(d, p2_co2Left, Y, C.co2, 6, 'co2-left');
    drawLine(d, p2_co2Right, Y, C.co2, 10, 'co2-right');
    drawLine(d, CO2_deep, Y, C.co2, 3, 'co2-deep');
    drawBand(d, p2_h2oBandTop, p2_h2oBandBot, Y, C.h2o, 'h2o-band');
    drawBand(d, p2_n2BandTop, p2_n2BandBot, Y, C.n2, 'n2-band');
    drawBand(d, p2_coBandTop, p2_coBandBot, Y, C.co, 'co-band');
    drawLine(d, [[-4.48,-6.45],[-4.46,-5.6],[-4.38,-4.8],[-4.3,-3.0],[-4.25,-1.0],[-4.22,1.0]].concat(N2_deep), Y, C.n2, 2.5, 'n2-line');
    p2_h2oBump.forEach(b => drawLine(d, [[-3.75,-6.0],[-3.7,-5.5],[-3.75,-5.2],[b,-4.95],[-3.7,-4.7],[-3.52,-4.3],[-3.45,-3.0],[-3.43,0.8]].concat(H2O_deep), Y, C.h2o, 1.8, 'h2o-line'));
    drawLine(d, [[-3.58,-6.6],[-3.56,-5.0],[-3.42,-4.5],[-3.36,-4.2],[-3.36,1.0]].concat(CO_deep), Y, C.co, 3, 'co-line');
    label(g, 273, 586, C.nh3, 'NH', '3', 'nh3-label');
    label(g, 501, 650, C.co2, 'CO', '2', 'co2-label');
    label(g, 612, 605, C.n2, 'N', '2', 'n2-label');
    label(g, 177, 748, C.hcn, 'HCN', '', 'hcn-label');
  }
  if (pi === 2){
    p3_hcn.forEach(c => drawLine(d, c, Y, C.hcn, 2.5, 'hcn-line'));
    p3_hcnVertX.forEach(x => drawLine(d, [[x,-8.1],[x,-1.6],[x+0.05,-1.0],[-8.45,-0.55],[-8.37,-0.43]], Y, C.hcn, 2.2, 'hcn-vertical'));
    p3_ch4.forEach(c => drawLine(d, c, Y, C.ch4, 2.2, 'ch4-line'));
    p3_ch4VertX.forEach(x => drawLine(d, [[x,-8.1],[x,-0.9],[x-0.05,-0.65],[-7.2,-0.45],[-7.07,-0.4]], Y, C.ch4, 2, 'ch4-vertical'));
    drawLine(d, [[-7.8,-0.72],[-7.3,-0.5]].concat(CH4_deep), Y, C.ch4, 4, 'ch4-main');
    p3_nh3.forEach(c => drawLine(d, c, Y, C.nh3, 2.2, 'nh3-line'));
    p3_nh3VertX.forEach(x => drawLine(d, [[x,-8.1],[x,-0.95],[-7.15,-0.75]], Y, C.nh3, 2, 'nh3-vertical'));
    drawLine(d, NH3_deep, Y, C.nh3, 2.5, 'nh3-deep');
    p3_co2.forEach(c => drawLine(d, c, Y, C.co2, 2, 'co2-line'));
    drawLine(d, CO2_deep, Y, C.co2, 3, 'co2-deep');
    p3_n2.forEach(c => drawLine(d, c, Y, C.n2, 2, 'n2-line'));
    drawLine(d, [[-4.24,-3.5],[-4.22,1.0]].concat(N2_deep), Y, C.n2, 2.5, 'n2-deep');
    p3_h2o.forEach(c => drawLine(d, c, Y, C.h2o, 2, 'h2o-line'));
    drawLine(d, p3_h2oMain.concat(H2O_deep), Y, C.h2o, 5, 'h2o-main');
    p3_co.forEach(c => drawLine(d, c, Y, C.co, 2, 'co-line'));
    drawLine(d, [[-3.36,-8.1],[-3.36,1.0]].concat(CO_deep), Y, C.co, 3, 'co-main');
    label(g, 210, 1183, C.hcn, 'HCN', '', 'hcn-label');
    label(g, 507, 1111, C.co2, 'CO', '2', 'co2-label');
    label(g, 630, 1116, C.n2, 'N', '2', 'n2-label');
    label(g, 529, 1308, C.nh3, 'NH', '3', 'nh3-label');
  }
  if (pi === 3){
    drawLine(d, p4_hcn, Y, C.hcn, 3, 'hcn-line');
    drawLine(d, p4_ch4TopBand, Y, C.ch4, 16, 'ch4-top-band');
    p4_ch4.forEach(c => drawLine(d, c, Y, C.ch4, 2, 'ch4-line'));
    drawLine(d, p4_ch4BotBand, Y, C.ch4, 20, 'ch4-bottom-band');
    drawLine(d, CH4_deep, Y, C.ch4, 4, 'ch4-deep');
    p4_nh3.forEach(c => drawLine(d, c, Y, C.nh3, 2.5, 'nh3-line'));
    drawLine(d, p4_nh3Band, Y, C.nh3, 16, 'nh3-band');
    drawLine(d, NH3_deep, Y, C.nh3, 2.5, 'nh3-deep');
    drawLine(d, p4_co2Diag, Y, C.co2, 7, 'co2-diagonal');
    p4_co2VertX.forEach(x => drawLine(d, [[x,-8.1],[x,-5.6],[x-0.2,-4.6],[(x-7.12)/2-0.3,-2.6],[-7.12,-0.7]], Y, C.co2, 2, 'co2-vertical'));
    drawLine(d, p4_co2Band, Y, C.co2, 9, 'co2-band');
    drawLine(d, CO2_deep, Y, C.co2, 3, 'co2-deep');
    p4_n2.forEach(c => drawLine(d, c, Y, C.n2, 2, 'n2-line'));
    drawLine(d, N2_deep, Y, C.n2, 2.5, 'n2-deep');
    p4_h2o.forEach(c => drawLine(d, c, Y, C.h2o, 2, 'h2o-line'));
    drawLine(d, p4_h2oMain, Y, C.h2o, 11, 'h2o-main');
    drawLine(d, [[-3.43,-3.0],[-3.43,0.8]].concat(H2O_deep), Y, C.h2o, 3, 'h2o-deep');
    p4_co.forEach(c => drawLine(d, c, Y, C.co, 2, 'co-line'));
    drawLine(d, [[-3.36,-8.1],[-3.36,1.0]].concat(CO_deep), Y, C.co, 3, 'co-main');
    label(g, 201, 1657, C.hcn, 'HCN', '', 'hcn-label');
    label(g, 630, 1672, C.n2, 'N', '2', 'n2-label');
    label(g, 407, 1754, C.co2, 'CO', '2', 'co2-label');
    label(g, 529, 1752, C.nh3, 'NH', '3', 'nh3-label');
  }
  label(g, 675, top+233, C.h2o, 'H', '2', 'h2o-label');
  label(g, 702, top+233, C.h2o, 'O', '', 'h2o-label-o');
  if (pi !== 3) label(g, 590, top+341, C.ch4, 'CH', '4', 'ch4-label');
  else label(g, 573, 1707, C.ch4, 'CH', '4', 'ch4-label');
  label(g, 745, top+308, C.co, 'CO', '', 'co-label');

  const t1 = el('text', {x:131, y:top+353, 'font-size':22}, g);
  
  
  t1.textContent = panelTitles[pi];
  const t2 = el('text', {x:131, y:top+380, 'font-size':22}, g);
  
  
  t2.textContent = planetName;

  const fr = el('rect', {x:L, y:top, width:R-L, height:PH, fill:'none', stroke:'#000', 'stroke-width':2}, g);
  
  

  let tk = '';
  for (let e = -11; e <= -3; e++) for (let m = 1; m <= 9; m++){
    const lx = e + Math.log10(m); const x = X(lx);
    if (x < L || x > R) continue;
    const len = m === 1 ? 8 : 4;
    tk += `M${x.toFixed(1)},${top+PH}v${-len}M${x.toFixed(1)},${top}v${len}`;
  }
  for (let e = -9; e <= 2; e++) for (let m = 1; m <= 9; m++){
    const lp = e + Math.log10(m); const y = Y(lp);
    if (y < top || y > top+PH) continue;
    const len = m === 1 ? 8 : 4;
    tk += `M${L},${y.toFixed(1)}h${len}M${R},${y.toFixed(1)}h${-len}`;
  }
  const tp = el('path', {d:tk, stroke:'#000', 'stroke-width':1.3, fill:'none'}, g);
  
  

  xTickExps.forEach(e => {
    const x = X(e);
    const t = el('text', {x:x-4, y:top+PH+31, 'font-size':22, 'text-anchor':'middle'}, g);
    
    
    t.textContent = '10';
    const s = el('text', {x:x+9, y:top+PH+19, 'font-size':15}, g);
    
    
    s.textContent = String(e);
  });
  yTickExps.forEach(e => {
    const y = Y(e);
    const ex = String(e);
    const t = el('text', {x:100 - ex.length*9, y:y+9, 'font-size':22, 'text-anchor':'end'}, g);
    
    
    t.textContent = '10';
    const s = el('text', {x:100 - ex.length*9, y:y-3, 'font-size':15}, g);
    
    
    s.textContent = ex;
  });
  const yt = el('text', {x:0, y:0, 'font-size':23, 'text-anchor':'middle', transform:`translate(40,${top+PH/2}) rotate(-90)`}, g);
  
  
  yt.textContent = 'pressure (bar)';
});
</script>
</body></html>
